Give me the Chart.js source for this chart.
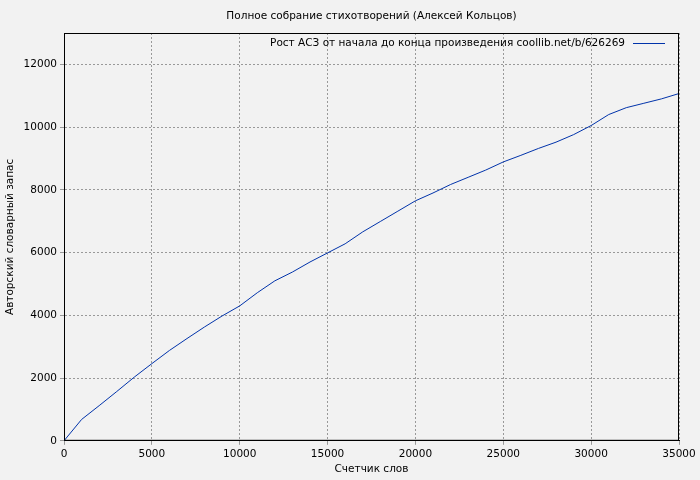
<!DOCTYPE html><html><head><script src="https://cdn.jsdelivr.net/npm/chart.js@4"></script>
<style>body{margin:0;background:#f2f2f2}#w{width:700px;height:480px}</style></head><body><div id="w"><canvas id="c"></canvas></div>
<script>
const xs=[0,1000,2000,3000,4000,5000,6000,7000,8000,9000,10000,11000,12000,13000,14000,15000,16000,17000,18000,19000,20000,21000,22000,23000,24000,25000,26000,27000,28000,29000,30000,31000,32000,33000,34000,35000];
const ys=[0,680,1120,1570,2030,2460,2880,3260,3630,3980,4300,4720,5100,5380,5700,5990,6280,6660,6990,7320,7650,7900,8170,8400,8630,8890,9100,9320,9520,9760,10050,10400,10620,10760,10900,11070];
const xTicks=[0,5000,10000,15000,20000,25000,30000,35000];
const yTicks=[0,2000,4000,6000,8000,10000,12000];
const title='Полное собрание стихотворений (Алексей Кольцов)';
const seriesName='Рост АСЗ от начала до конца произведения coollib.net/b/626269';
const F='"DejaVu Sans"';
const leg={id:'leg',afterDraw(c){const g=c.ctx,a=c.chartArea;g.save();g.font='10.5px '+F;g.fillStyle='#000';g.textAlign='right';g.textBaseline='middle';
g.fillText(seriesName,a.right-54,43);g.strokeStyle='#0033aa';g.lineWidth=1;g.beginPath();g.moveTo(a.right-46,43.5);g.lineTo(a.right-14,43.5);g.stroke();
g.font='10.5px '+F;g.textAlign='center';g.fillText(title,(a.left+a.right)/2,16);g.restore();}};
new Chart(document.getElementById('c'),{type:'scatter',data:{datasets:[{data:xs.map((x,i)=>({x,y:ys[i]})),showLine:true,borderColor:'#0033aa',borderWidth:1,pointRadius:0}]},
options:{responsive:true,maintainAspectRatio:false,animation:false,layout:{padding:{right:21,top:33}},
plugins:{legend:{display:false},tooltip:{enabled:false}},
scales:{x:{min:0,max:35000,afterBuildTicks:s=>{s.ticks=xTicks.map(v=>({value:v}))},ticks:{callback:v=>String(v),color:'#000',font:{family:F,size:10.5},maxRotation:0},grid:{color:'#999',tickLength:4},border:{color:'#000',dash:[2,2]},title:{display:true,text:'Счетчик слов',color:'#000',font:{family:F,size:10.5},padding:{top:0}}},
y:{min:0,max:13000,afterBuildTicks:s=>{s.ticks=yTicks.map(v=>({value:v}))},ticks:{callback:v=>String(v),color:'#000',font:{family:F,size:10.5}},grid:{color:'#999',tickLength:4},border:{color:'#000',dash:[2,2]},title:{display:true,text:'Авторский словарный запас',color:'#000',font:{family:F,size:10.5}}}}},
plugins:[leg,{id:'bg',beforeDraw(c){c.ctx.fillStyle='#f2f2f2';c.ctx.fillRect(0,0,c.width,c.height);},afterDraw(c){const g=c.ctx,a=c.chartArea;g.save();g.strokeStyle='#000';g.lineWidth=1;g.strokeRect(a.left+.5,a.top+.5,a.right-a.left-1,a.bottom-a.top-1);g.restore();}}]});
</script></body></html>
